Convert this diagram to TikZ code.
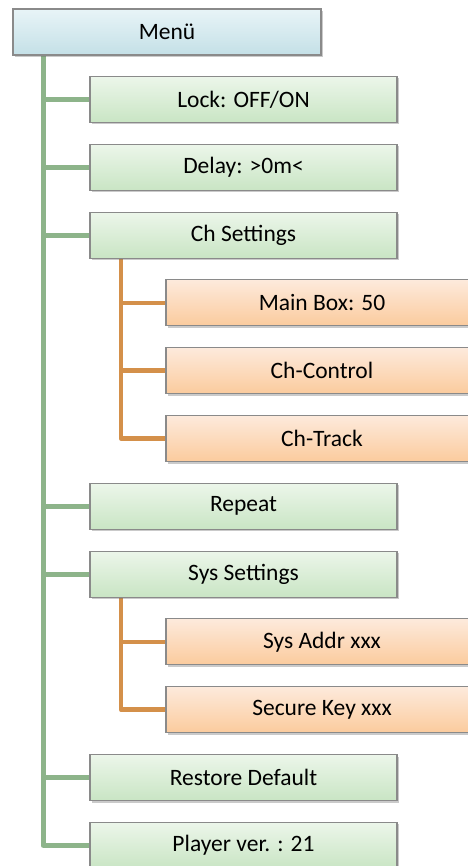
\documentclass[tikz,border=0pt]{standalone}
\usepackage{fontspec}
\setmainfont{Carlito}
\usetikzlibrary{shadows,backgrounds}
\definecolor{gline}{HTML}{8DB48A}
\definecolor{oline}{HTML}{D4904A}
\definecolor{bord}{HTML}{8A8A8A}
\tikzset{
  box/.style={rectangle, draw=bord, line width=1.1pt, minimum height=46pt, inner sep=0pt,
    font=\fontsize{23.5}{28}\selectfont, text=black,
    drop shadow={shadow xshift=1.5pt, shadow yshift=-2pt, opacity=0.35, fill=black!60}},
  bluebox/.style={box, minimum width=307pt, top color=white!100!blue!0!cyan!8!white, bottom color=cyan!18!gray!20!white},
  greenbox/.style={box, minimum width=307pt, top color={rgb,255:red,236;green,246;blue,234}, bottom color={rgb,255:red,201;green,229;blue,196}},
  orangebox/.style={box, minimum width=312pt, top color={rgb,255:red,253;green,234;blue,220}, bottom color={rgb,255:red,251;green,203;blue,157}},
  gconn/.style={draw=gline, line width=5pt, line join=round},
  oconn/.style={draw=oline, line width=4.5pt, line join=round},
}
\begin{document}
\begin{tikzpicture}[x=1pt,y=-1pt]
\useasboundingbox (0,0) rectangle (467,866);
\node[box, minimum width=308pt, top color={rgb,255:red,232;green,244;blue,247}, bottom color={rgb,255:red,196;green,224;blue,231}] (menu) at (167,32) {Menü};
\node[greenbox] (lock) at (243.5,99.5) {Lock: OFF/ON};
\node[greenbox] (delay) at (243.5,167.3) {Delay: >0m<};
\node[greenbox] (chset) at (243.5,235.1) {Ch Settings};
\node[orangebox] (mainbox) at (322,302.9) {Main Box: 50};
\node[orangebox] (chctrl) at (322,370.7) {Ch-Control};
\node[orangebox] (chtrack) at (322,438.5) {Ch-Track};
\node[greenbox] (repeat) at (243.5,506.3) {Repeat};
\node[greenbox] (sysset) at (243.5,574.1) {Sys Settings};
\node[orangebox] (sysaddr) at (322,641.9) {Sys Addr xxx};
\node[orangebox] (seckey) at (322,709.7) {Secure Key xxx};
\node[greenbox] (restore) at (243.5,777.5) {Restore Default};
\node[greenbox] (player) at (243.5,845.3) {Player ver. : 21};
\coordinate (gt) at (menu.south -| 43,0);
\coordinate (ot1) at (chset.south -| 121,0);
\coordinate (ot2) at (sysset.south -| 121,0);
\begin{pgfonlayer}{background}
\foreach \n in {lock,delay,chset,repeat,sysset,restore,player}
  \draw[gconn] (gt) |- (\n.west);
\foreach \n in {mainbox,chctrl,chtrack}
  \draw[oconn] (ot1) |- (\n.west);
\foreach \n in {sysaddr,seckey}
  \draw[oconn] (ot2) |- (\n.west);
\end{pgfonlayer}
\end{tikzpicture}
\end{document}
